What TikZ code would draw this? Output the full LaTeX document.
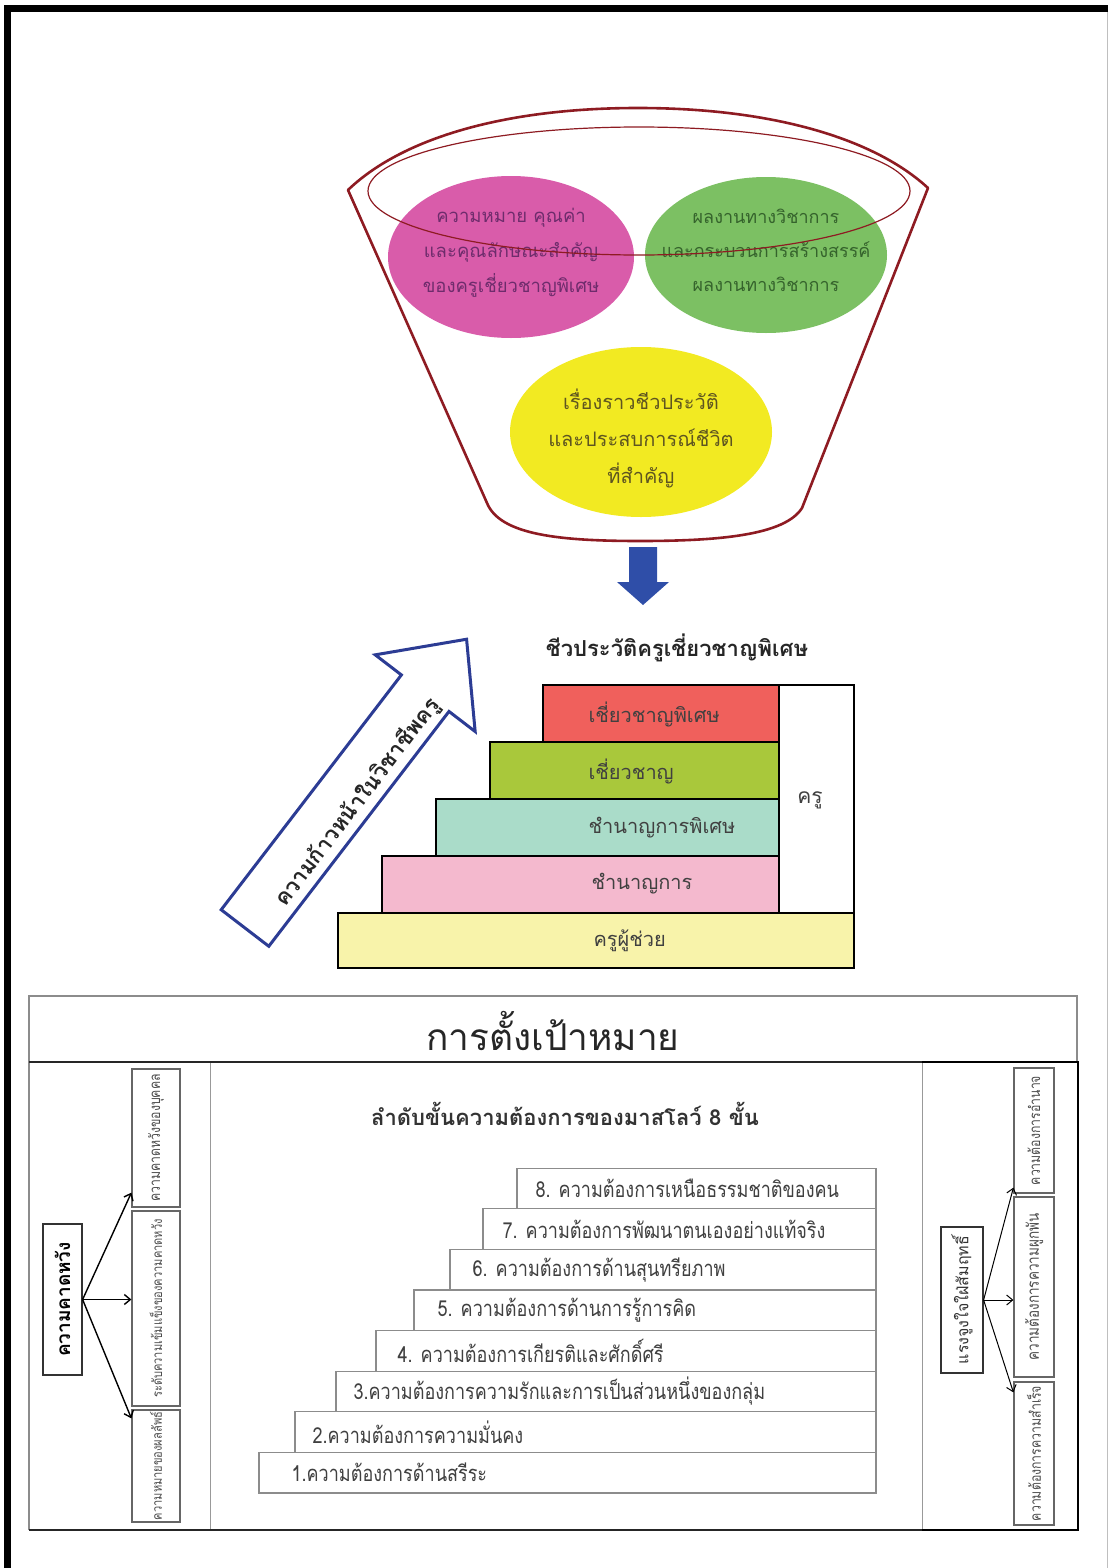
\documentclass[tikz,border=0pt]{standalone}
\usepackage{fontspec}
\newfontfamily\thai[Script=Thai]{Loma}
\newfontfamily\thainarrow[Script=Thai, FakeStretch=0.82]{Loma}
\usetikzlibrary{calc,arrows.meta}
\def\thaisize#1#2{\fontsize{#1}{#2}\selectfont}
\definecolor{rimred}{HTML}{8E1B22}
\definecolor{magfill}{HTML}{D95CAA}
\definecolor{magtext}{HTML}{6E2C6C}
\definecolor{grnfill}{HTML}{7CC063}
\definecolor{grntext}{HTML}{35632C}
\definecolor{yelfill}{HTML}{F2EA22}
\definecolor{yeltext}{HTML}{5E5520}
\definecolor{downblue}{HTML}{2F4EA8}
\definecolor{arrowblue}{HTML}{2C3C94}
\definecolor{stepred}{HTML}{F0605C}
\definecolor{stepgreen}{HTML}{A9C83B}
\definecolor{stepteal}{HTML}{AADCC9}
\definecolor{steppink}{HTML}{F4B9CE}
\definecolor{stepcream}{HTML}{F8F3AA}
\tikzset{
	bowltext/.style={align=center, font=\thai\thaisize{18.5}{35}},
	stepbox/.style={draw=black, line width=1.3pt},
	steptext/.style={anchor=west, text=black!75, font=\thai\thaisize{20}{24}},
	needbox/.style={draw=black!45, line width=1.2pt, fill=white},
	needtext/.style={anchor=west, text=black!75, font=\thainarrow\thaisize{22}{24}},
	sidebox/.style={draw=black!60, line width=1.2pt, rotate=90, inner sep=0pt, minimum height=#1, font=\thainarrow\thaisize{15}{17}, text=black!70},
	sidelabel/.style={draw=black!80, line width=1.2pt, rotate=90, inner sep=0pt},
	barb/.style={-{Straight Barb[length=6pt,width=10pt]}, line width=1.4pt},
}
\begin{document}
\begin{tikzpicture}[x=1pt, y=-1pt]
		\useasboundingbox (0,0) rectangle (1108,1568);
		%%%%% FRAME %%%%%
		\draw[line width=7pt] (1108,8.5) -- (7,8.5) -- (7,1568);
		\draw[black!25, line width=1pt] (1107,12) -- (1107,1568);
		
		%%%%% BOWL %%%%%
		\fill[magfill] (511,257) ellipse [x radius=123, y radius=81];
		\fill[grnfill] (766,255) ellipse [x radius=121, y radius=78];
		\fill[yelfill] (641,432) ellipse [x radius=131, y radius=85];
		\node[bowltext, text=magtext] (meaning) at (511,253) {ความหมาย คุณค่า\\และคุณลักษณะสำคัญ\\ของครูเชี่ยวชาญพิเศษ};
		\node[bowltext, text=grntext, font=\thai\thaisize{18}{34}] (works) at (766,250) {ผลงานทางวิชาการ\\และกระบวนการสร้างสรรค์\\ผลงานทางวิชาการ};
		\node[bowltext, text=yeltext, font=\thai\thaisize{20}{37}] (story) at (641,438) {เรื่องราวชีวประวัติ\\และประสบการณ์ชีวิต\\ที่สำคัญ};
		\draw[rimred, line width=1.2pt] (639,191) ellipse [x radius=271, y radius=64];
		\draw[rimred, line width=2.6pt, line join=round] (348,190) .. controls (400,140) and (500,108) .. (638,108)
			.. controls (776,108) and (876,140) .. (928,188) -- (802,508)
			.. controls (785,535) and (720,541) .. (640,541)
			.. controls (560,541) and (500,535) .. (487,503) -- cycle;
		\fill[downblue] (629,547) -- (657,547) -- (657,582) -- (669,582) -- (643,605) -- (617,582) -- (629,582) -- cycle;
		
		%%%%% STEPS %%%%%
		\node[font=\thai\bfseries\thaisize{22}{24}, text=black!85] (bio) at (677,648) {ชีวประวัติครูเชี่ยวชาญพิเศษ};
		\draw[stepbox, fill=stepcream] (338,913) rectangle (854,968);
		\draw[stepbox, fill=steppink] (382,856) rectangle (779,913);
		\draw[stepbox, fill=stepteal] (436,799) rectangle (779,856);
		\draw[stepbox, fill=stepgreen] (490,742) rectangle (779,799);
		\draw[stepbox, fill=stepred] (543,685) rectangle (779,742);
		\draw[stepbox, fill=white] (779,685) rectangle (854,913);
		\node[steptext] (s5) at (585,714) {เชี่ยวชาญพิเศษ};
		\node[steptext] (s4) at (585,771) {เชี่ยวชาญ};
		\node[steptext] (s3) at (585,828) {ชำนาญการพิเศษ};
		\node[steptext] (s2) at (588,884) {ชำนาญการ};
		\node[steptext] (s1) at (590,941) {ครูผู้ช่วย};
		\node[font=\thai\thaisize{21}{24}, text=black!75] (kru) at (810,800) {ครู};
		
		\begin{scope}[shift={(245,928)}, rotate=52.5]
			\draw[arrowblue, line width=3pt, fill=white, line join=miter] (0,-30) -- (296,-30) -- (296,-63) -- (364,0) -- (296,63) -- (296,30) -- (0,30) -- cycle;
			\node[rotate=52.5, font=\thai\bfseries\thaisize{22}{24}, text=black!85] (career) at (168,13) {ความก้าวหน้าในวิชาชีพครู};
		\end{scope}
		
		%%%%% GOALS %%%%%
		\draw[black!45, line width=1.2pt] (29,1062) -- (29,996) -- (1077,996) -- (1077,1062);
		\node[font=\thai\thaisize{37}{40}, text=black!85] (goal) at (553,1031) {การตั้งเป้าหมาย};
		\draw[black!45, line width=1.2pt] (29,1062) -- (29,1530);
		\draw[black!40, line width=1pt] (210,1062) -- (210,1530);
		\draw[black!40, line width=1pt] (922,1062) -- (922,1530);
		\draw[black!85, line width=1.6pt] (29,1062) -- (922,1062);
		\draw[black!85, line width=1.6pt] (29,1530) -- (922,1530);
		\draw[black, line width=2.2pt] (922,1062) -- (1078,1062) -- (1078,1530) -- (922,1530);
		
		\node[font=\thai\bfseries\thaisize{22}{24}, text=black!80] (maslow) at (565,1114) {ลำดับขั้นความต้องการของมาสโลว์ 8 ขั้น};
		\foreach \x/\tx/\txt [count=\i] in {259/288/{1.ความต้องการด้านสรีระ}, 295/309/{2.ความต้องการความมั่นคง},
			336/350/{3.ความต้องการความรักและการเป็นส่วนหนึ่งของกลุ่ม}, 376/394/{4. ความต้องการเกียรติและศักดิ์ศรี},
			414/434/{5. ความต้องการด้านการรู้การคิด}, 450/469/{6. ความต้องการด้านสุนทรียภาพ},
			483/499/{7. ความต้องการพัฒนาตนเองอย่างแท้จริง}, 517/532/{8. ความต้องการเหนือธรรมชาติของคน}}{
			\pgfmathsetmacro{\ytop}{1493-40.6*\i}
			\draw[needbox] (\x,\ytop) rectangle (876,{\ytop+40.6});
			\node[needtext] (need\i) at (\tx,{\ytop+20.3}) {\txt};
		}
		
		% expectancy
		\node[sidelabel, minimum width=151pt, minimum height=39pt, font=\thai\bfseries\thaisize{19}{22}] (expect) at (62.5,1299.5) {ความคาดหวัง};
		\node[sidebox=48pt, minimum width=138pt] (kl1) at (156,1138) {ความคาดหวังของบุคคล};
		\node[sidebox=48pt, minimum width=195pt, font=\thainarrow\thaisize{13.5}{15}] (kl2) at (156,1308.5) {ระดับความเข้มแข็งของความคาดหวัง};
		\node[sidebox=48pt, minimum width=112pt, font=\thainarrow\thaisize{13.5}{15}] (kl3) at (156,1466) {ความหมายของผลลัพธ์};
		\draw[barb] (expect.south) -- ($(kl1.north west)!15pt!(kl1.north east)$);
		\draw[barb] (expect.south) -- (expect.south -| kl2.north);
		\draw[barb] (expect.south) -- ($(kl3.north east)!9pt!(kl3.north west)$);
		
		% achievement motive
		\node[sidelabel, minimum width=146pt, minimum height=42pt, font=\thai\thaisize{16}{20}, text=black!80] (motive) at (962,1300) {แรงจูงใจใฝ่สัมฤทธิ์};
		\node[sidebox=40pt, minimum width=125pt] (kr1) at (1034,1130.5) {ความต้องการอำนาจ};
		\node[sidebox=40pt, minimum width=180pt, font=\thainarrow\thaisize{16.5}{18}] (kr2) at (1034,1287) {ความต้องการความผูกพัน};
		\node[sidebox=40pt, minimum width=143pt] (kr3) at (1034,1453.5) {ความต้องการความสำเร็จ};
		\draw[barb, line width=1pt] (motive.south) -- ($(kr1.north west)!6pt!(kr1.north east)$);
		\draw[barb, line width=1pt] (motive.south) -- (motive.south -| kr2.north);
		\draw[barb, line width=1pt] (motive.south) -- ($(kr3.north east)!11pt!(kr3.north west)$);
		%%%%% END %%%%%
\end{tikzpicture}
\end{document}
